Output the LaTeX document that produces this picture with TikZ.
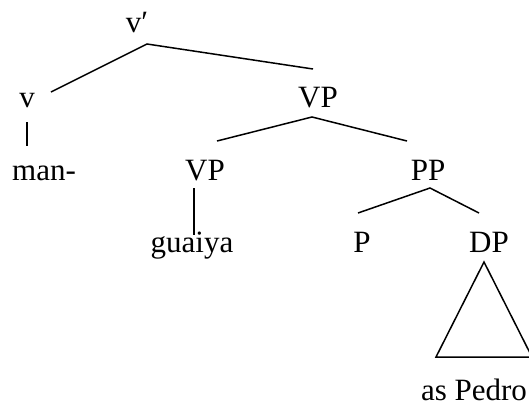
\documentclass[tikz,border=0pt]{standalone}
\usepackage{fontspec}
\setmainfont{Liberation Serif}
\usetikzlibrary{calc}

\begin{document}
\begin{tikzpicture}[x=1pt, y=-1pt,
    cat/.style={anchor=base, inner sep=0pt, font=\fontsize{31}{36}\selectfont},
    branch/.style={line width=1.5pt}]
    \useasboundingbox (0,0) rectangle (529,407);
    \clip (0,0) rectangle (529,407);
    % Nodes
    \node[cat] (vbar) at (137,32) {v′};
    \node[cat] (v) at (27,107) {v};
    \node[cat] (VPa) at (318,107) {VP};
    \node[cat] (man) at (44,180) {man-};
    \node[cat] (VPb) at (205,180) {VP};
    \node[cat] (PP) at (428,180) {PP};
    \node[cat] (guaiya) at (192,252) {guaiya};
    \node[cat] (P) at (362,252) {P};
    \node[cat] (DP) at (489,252) {DP};
    \node[cat] (pedro) at (474,400) {as Pedro};
    % Branch ends
    \coordinate (vbar-b) at (147,44);
    \coordinate (v-t) at (51,92);
    \coordinate (VPa-t) at (313,69);
    \coordinate (v-b) at (27,122);
    \coordinate (man-t) at (27,146);
    \coordinate (VPa-b) at (312,117);
    \coordinate (VPb-t) at (217,141);
    \coordinate (PP-t) at (407,141);
    \coordinate (VPb-b) at (194,188);
    \coordinate (guaiya-t) at (194,235);
    \coordinate (PP-b) at (430,188);
    \coordinate (P-t) at (358,213);
    \coordinate (DP-t) at (479,213);
    \coordinate (DP-b) at (484,262);
    \coordinate (pedro-l) at (436,357);
    \coordinate (pedro-r) at (532,357);
    % Branches
    \draw[branch] (v-t) -- (vbar-b) -- (VPa-t);
    \draw[branch] (v-b) -- (man-t);
    \draw[branch] (VPb-t) -- (VPa-b) -- (PP-t);
    \draw[branch] (VPb-b) -- (guaiya-t);
    \draw[branch] (P-t) -- (PP-b) -- (DP-t);
    \draw[branch] (DP-b) -- (pedro-l) -- (pedro-r) -- cycle;
\end{tikzpicture}
\end{document}
